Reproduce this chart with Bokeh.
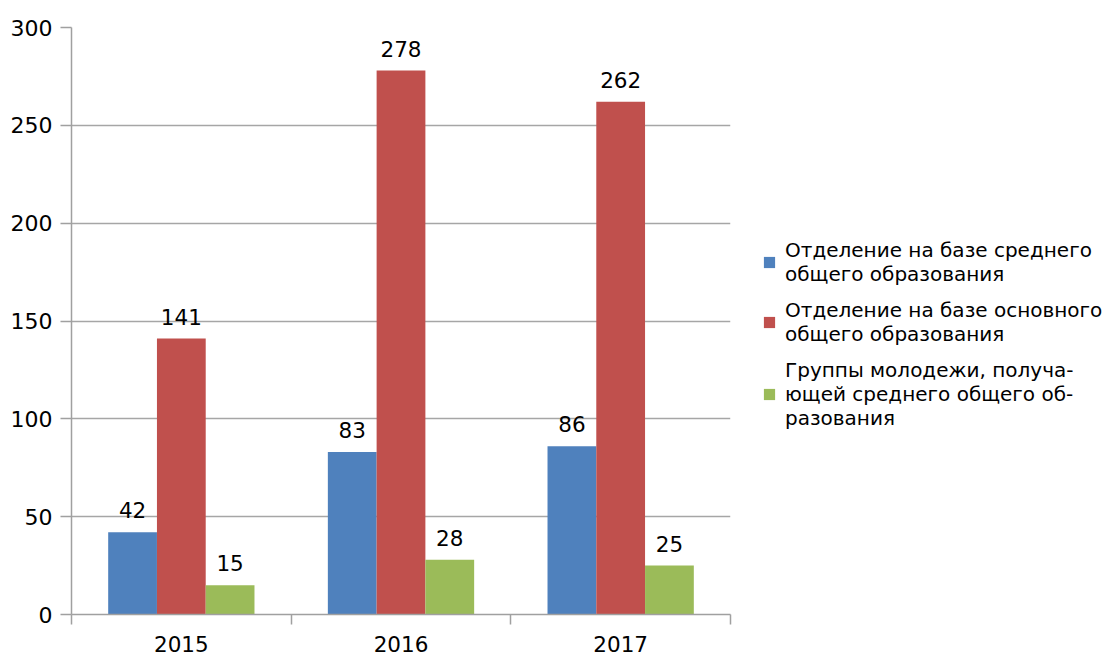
from bokeh.plotting import figure
from bokeh.layouts import row
from bokeh.models import (ColumnDataSource, LabelSet, Legend, LegendItem, FixedTicker,
                          Range1d)
from bokeh.core.properties import value
from bokeh.transform import dodge
from bokeh.embed import file_html
from bokeh.resources import INLINE

years = ["2015", "2016", "2017"]
series_names = [
    "Отделение на базе среднего\nобщего образования",
    "Отделение на базе основного\nобщего образования",
    "Группы молодежи, получа-\nющей среднего общего об-\nразования",
]
srednee = [42, 83, 86]
osnovnoe = [141, 278, 262]
molodezh = [15, 28, 25]
colors = ["#4F81BD", "#C0504D", "#9BBB59"]
y_ticks = [0, 50, 100, 150, 200, 250, 300]

FONT = "DejaVu Sans"
FS = "21.5px"

xpos = [i + 0.5 for i in range(len(years))]
src = ColumnDataSource(dict(x=xpos, years=years, s1=srednee, s2=osnovnoe, s3=molodezh,
                            l1=[str(v) for v in srednee], l2=[str(v) for v in osnovnoe],
                            l3=[str(v) for v in molodezh]))

p = figure(width=732, height=655, output_backend="svg", toolbar_location=None,
           x_range=Range1d(0, len(years)), y_range=Range1d(0, 300),
           min_border_left=71, min_border_right=2, min_border_top=27, min_border_bottom=41)
p.outline_line_color = None
p.xgrid.grid_line_color = None
p.ygrid.grid_line_color = "#A6A6A6"
p.ygrid.grid_line_width = 1.5
p.ygrid.ticker = FixedTicker(ticks=y_ticks)

bw = 0.222
series = [("s1", "l1", -bw, colors[0]), ("s2", "l2", 0.0, colors[1]), ("s3", "l3", bw, colors[2])]
for key, lab, off, c in series:
    p.vbar(x=dodge("x", off, range=p.x_range), top=key, width=bw, bottom=0,
           fill_color=c, line_color=None, source=src)
    ls = LabelSet(x=dodge("x", off, range=p.x_range), y=key, text=lab, source=src,
                  text_align="center", text_baseline="bottom", y_offset=14,
                  text_font=value(FONT), text_font_size=value(FS), text_color="#000000")
    p.add_layout(ls)

# y axis
ya = p.yaxis[0]
ya.ticker = FixedTicker(ticks=y_ticks)
ya.axis_line_color = "#A0A0A0"
ya.axis_line_width = 1.5
ya.major_tick_line_color = "#A0A0A0"
ya.major_tick_line_width = 1.5
ya.major_tick_out = 11
ya.major_tick_in = 0
ya.minor_tick_line_color = None
ya.major_label_text_font = FONT
ya.major_label_text_font_size = "22px"
ya.major_label_text_color = "#000000"
ya.major_label_standoff = 8

# x axis: labels at centres, boundary ticks as minor ticks
xa = p.xaxis[0]
xa.ticker = FixedTicker(ticks=xpos, minor_ticks=list(range(len(years) + 1)))
xa.major_label_overrides = {x: y for x, y in zip(xpos, years)}
xa.axis_line_color = "#A0A0A0"
xa.axis_line_width = 1.5
xa.major_tick_line_color = None
xa.minor_tick_line_color = "#A0A0A0"
xa.minor_tick_line_width = 1.5
xa.minor_tick_out = 10
xa.minor_tick_in = 0
xa.major_label_text_font = FONT
xa.major_label_text_font_size = FS
xa.major_label_text_color = "#000000"
xa.major_label_standoff = 11

# legend panel (separate figure to the right); its renderers are hidden copies of the bars
lf = figure(width=382, height=655, output_backend="svg", toolbar_location=None,
            x_range=Range1d(0, len(years)), y_range=Range1d(0, 300),
            min_border_left=0, min_border_right=0, min_border_top=0, min_border_bottom=0)
lf.axis.visible = False
lf.grid.grid_line_color = None
lf.outline_line_color = None
leg_renderers = [lf.vbar(x="x", top=key, width=bw, bottom=0, fill_color=c, line_color=None,
                         source=src, visible=False) for key, lab, off, c in series]

legend = Legend(items=[LegendItem(label=n, renderers=[r]) for n, r in zip(series_names, leg_renderers)],
                location=(30, 184), orientation="vertical",
                label_text_font=FONT, label_text_font_size="20px", label_text_color="#000000",
                glyph_width=14, glyph_height=14, label_standoff=9, spacing=12, padding=0, margin=0,
                border_line_color=None, background_fill_alpha=0, inactive_fill_alpha=0)
lf.add_layout(legend)

open("out.html", "w").write(file_html(row(p, lf), INLINE))
